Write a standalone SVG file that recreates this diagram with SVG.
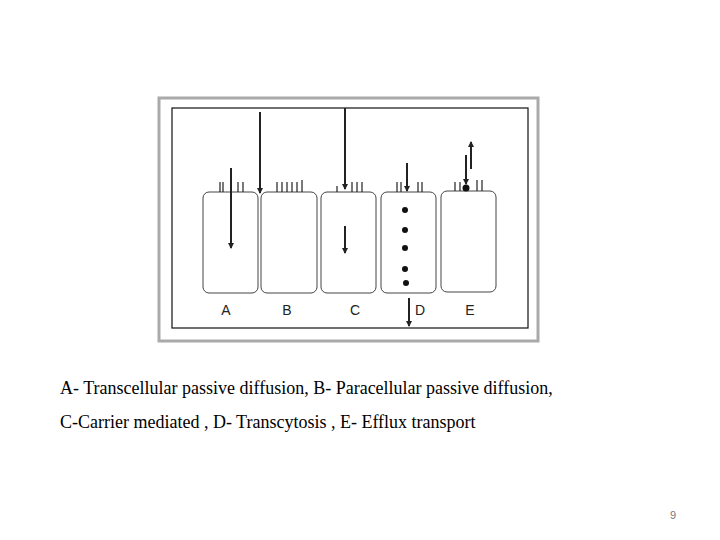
<svg xmlns="http://www.w3.org/2000/svg" width="720" height="540" viewBox="0 0 720 540">
<style>
.cell{fill:#fff;stroke:#444;stroke-width:1}
.mv{stroke:#222;stroke-width:1.2}
.ar{stroke:#222;stroke-width:2;marker-end:url(#ah)}
.lb{font-family:"Liberation Sans",sans-serif;font-size:14px;fill:#222;text-anchor:middle}
.cap{font-family:"Liberation Serif",serif;font-size:18px;fill:#000}
</style>
<defs><marker id="ah" markerWidth="6" markerHeight="6" refX="5" refY="3" orient="auto" markerUnits="userSpaceOnUse"><path d="M0,0L6,3L0,6z" fill="#222"/></marker></defs>
<rect x="0" y="0" width="720" height="540" fill="#fff"/>
<rect x="159" y="98" width="379" height="243" fill="#fff" stroke="#aaa" stroke-width="3"/>
<rect x="172" y="108" width="356" height="220" fill="#fff" stroke="#111" stroke-width="1.2"/>
<g id="A"><rect class="cell" x="203" y="192" width="55" height="101" rx="6"/><path class="mv" d="M220,182V192M223,182V192M238,182V192M243,182V192"/><text class="lb" x="226" y="315">A</text></g>
<g id="B"><rect class="cell" x="261" y="192" width="56" height="101" rx="6"/><path class="mv" d="M277,182V192M282,182V192M287,182V192M292,182V192M297,182V192M302,180V192"/><text class="lb" x="287" y="315">B</text></g>
<g id="C"><rect class="cell" x="321" y="192" width="55" height="101" rx="6"/><path class="mv" d="M337,186V192M352,182V192M357,182V192M362,182V192"/><text class="lb" x="355" y="315">C</text></g>
<g id="D"><rect class="cell" x="381" y="192" width="55" height="101" rx="6"/><path class="mv" d="M397,182V192M401,182V192M418,182V192M422,182V192"/><g fill="#111"><circle cx="405" cy="210" r="3"/><circle cx="405" cy="230" r="3"/><circle cx="405" cy="248" r="3"/><circle cx="405" cy="269" r="3"/><circle cx="406" cy="283" r="3"/></g><text class="lb" x="420" y="315">D</text></g>
<g id="E"><rect class="cell" x="441" y="191" width="55" height="101" rx="6"/><path class="mv" d="M455,182V191M460,182V191M477,180V191M482,180V191"/><circle cx="466" cy="188" r="3.5" fill="#111"/><text class="lb" x="470" y="315">E</text></g>
<g id="connectors">
<line class="ar" x1="231" y1="168" x2="231" y2="248"/>
<line class="ar" x1="260" y1="112" x2="260" y2="193"/>
<line class="ar" x1="345" y1="108" x2="345" y2="189"/>
<line class="ar" x1="345" y1="226" x2="345" y2="253"/>
<line class="ar" x1="407" y1="163" x2="407" y2="191"/>
<line class="ar" x1="409" y1="298" x2="409" y2="326"/>
<line class="ar" x1="466" y1="155" x2="466" y2="184"/>
<line class="ar" x1="471" y1="169" x2="471" y2="142"/>
</g>
<text class="cap" x="60" y="394">A- Transcellular passive diffusion, B- Paracellular passive diffusion,</text>
<text class="cap" x="60" y="428">C-Carrier mediated , D- Transcytosis , E- Efflux transport</text>
<text x="676" y="519" font-family="Liberation Sans,sans-serif" font-size="11" fill="#777" text-anchor="end">9</text>
</svg>
